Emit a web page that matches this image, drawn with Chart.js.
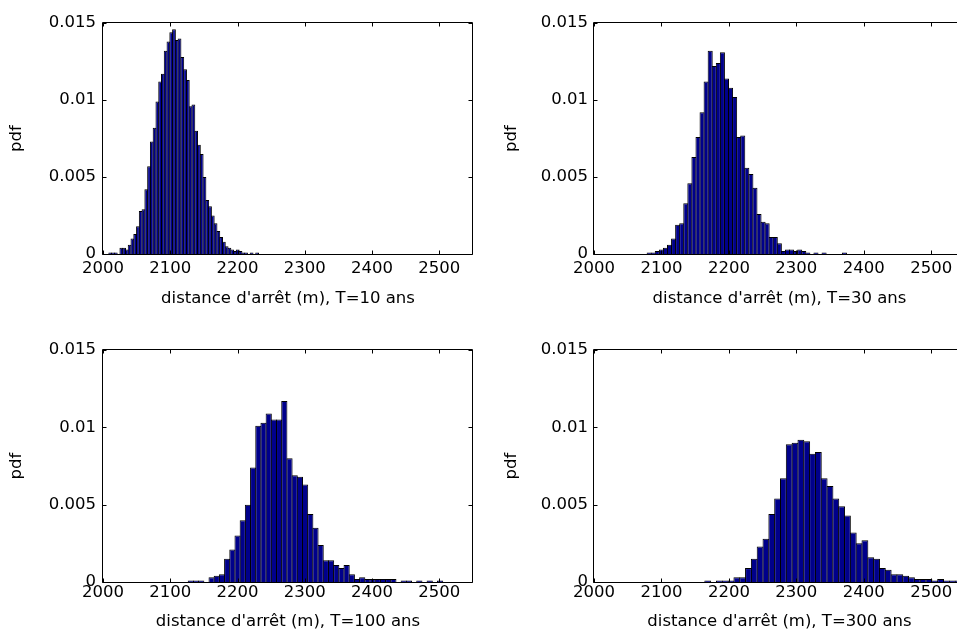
<!DOCTYPE html>
<html lang="fr">
<head>
<meta charset="UTF-8">
<title>Distance d'arrêt - histogrammes</title>
<script src="https://cdn.jsdelivr.net/npm/chart.js"></script>
<style>
  html, body { margin: 0; padding: 0; background: #fff; }
  body { position: relative; width: 957px; height: 637px; overflow: hidden; }
  canvas { position: absolute; }
</style>
</head>
<body>
<canvas id="hT10"  width="490" height="309" style="left:0;top:0;width:490px;height:309px"></canvas>
<canvas id="hT30"  width="480" height="309" style="left:495px;top:0;width:480px;height:309px"></canvas>
<canvas id="hT100" width="490" height="305" style="left:0;top:327px;width:490px;height:305px"></canvas>
<canvas id="hT300" width="480" height="305" style="left:495px;top:327px;width:480px;height:305px"></canvas>
<script>
  // histogram values (pdf), one value per bin
  var pdfT10 = [0.0001, 0.0001, 0.0001, 0, 0.0004, 0.0004, 0.0003, 0.0006, 0.0010, 0.0013,
    0.0018, 0.0028, 0.0029, 0.0042, 0.0057, 0.0073, 0.0082, 0.0099, 0.0112, 0.0117,
    0.0132, 0.0138, 0.0144, 0.0146, 0.0139, 0.0140, 0.0128, 0.0120, 0.0113, 0.0096,
    0.0097, 0.0080, 0.0071, 0.0065, 0.0050, 0.0035, 0.0031, 0.0025, 0.0020, 0.0015,
    0.0011, 0.0008, 0.0005, 0.0004, 0.0003, 0.0002, 0.0003, 0.0002, 0.0001, 0.0001,
    0, 0.0001, 0, 0.0001];
  var pdfT30 = [0.0001, 0.0001, 0.0002, 0.0003, 0.0004, 0.0006, 0.0010, 0.0019, 0.0020, 0.0033,
    0.0046, 0.0063, 0.0076, 0.0092, 0.0112, 0.0132, 0.0122, 0.0124, 0.0131, 0.0114,
    0.0108, 0.0102, 0.0076, 0.0077, 0.0056, 0.0052, 0.0043, 0.0026, 0.0021, 0.0020,
    0.0011, 0.0011, 0.0007, 0.0002, 0.0003, 0.0003, 0.0002, 0.0003, 0.0002, 0.0001,
    0, 0.0001, 0, 0.0001, 0, 0, 0, 0, 0.0001, 0];
  var pdfT100 = [0.0001, 0.0001, 0.0001, 0, 0.0003, 0.0004, 0.0005, 0.0015, 0.0021, 0.0030,
    0.0040, 0.0050, 0.0074, 0.0101, 0.0103, 0.0109, 0.0105, 0.0105, 0.0117, 0.0080,
    0.0069, 0.0068, 0.0063, 0.0044, 0.0035, 0.0024, 0.0014, 0.0014, 0.0011, 0.0009,
    0.0011, 0.0005, 0.0002, 0.0003, 0.0002, 0.0002, 0.0002, 0.0002, 0.0002, 0.0002,
    0, 0.0001, 0.0001, 0, 0.0001, 0, 0.0001, 0, 0.0001, 0];
  var pdfT300 = [0.0001, 0, 0.0001, 0.0001, 0.0001, 0.0003, 0.0003, 0.0009, 0.0015, 0.0023,
    0.0028, 0.0044, 0.0054, 0.0067, 0.0089, 0.0090, 0.0092, 0.0091, 0.0083, 0.0084,
    0.0067, 0.0062, 0.0054, 0.0049, 0.0043, 0.0032, 0.0025, 0.0027, 0.0016, 0.0015,
    0.0009, 0.0008, 0.0005, 0.0005, 0.0004, 0.0003, 0.0002, 0.0002, 0.0002, 0.0001,
    0.0002, 0.0001, 0.0001, 0.0001, 0.0001];

  // left edge of the first bin and bin width (m)
  var binStart = [2008.7, 2078.8, 2126.7, 2164.3];
  var binWidth = [4.12, 6.03, 7.72, 8.63];

  var xTicks = [2000, 2100, 2200, 2300, 2400, 2500];
  var yTicks = [0, 0.005, 0.01, 0.015];
  var xTitles = ["distance d'arrêt (m), T=10 ans", "distance d'arrêt (m), T=30 ans",
    "distance d'arrêt (m), T=100 ans", "distance d'arrêt (m), T=300 ans"];
  var yTitle = 'pdf';

  var font = { family: "'DejaVu Sans', sans-serif", size: 16.5 };

  // matlab style box with inward ticks on all four sides
  var boxTicks = {
    id: 'boxTicks',
    afterDraw: function (chart) {
      var a = chart.chartArea, ctx = chart.ctx;
      var xs = chart.scales.x, ys = chart.scales.y;
      var l = Math.round(a.left) - 0.5, r = Math.round(a.right) - 0.5;
      var t = Math.round(a.top) - 0.5, b = Math.round(a.bottom) + 0.5;
      ctx.save();
      ctx.strokeStyle = '#000';
      ctx.lineWidth = 1;
      ctx.beginPath();
      xTicks.forEach(function (v) {
        var px = Math.round(xs.getPixelForValue(v)) + 0.5;
        ctx.moveTo(px, b); ctx.lineTo(px, b - 4);
        ctx.moveTo(px, t); ctx.lineTo(px, t + 4);
      });
      yTicks.forEach(function (v) {
        var py = Math.round(ys.getPixelForValue(v)) + 0.5;
        ctx.moveTo(l, py); ctx.lineTo(l + 4, py);
        ctx.moveTo(r, py); ctx.lineTo(r - 4, py);
      });
      ctx.rect(l, t, r - l, b - t);
      ctx.stroke();
      ctx.restore();
    }
  };

  function drawHist(id, values, k, geo) {
    var pts = values.map(function (v, i) {
      return { x: binStart[k] + binWidth[k] * (i + 0.5), y: v };
    });
    var pxPerUnit = geo.plotW / 550;
    return new Chart(document.getElementById(id), {
      type: 'bar',
      data: {
        datasets: [{
          data: pts,
          backgroundColor: '#00008b',
          borderColor: '#000',
          borderWidth: 1,
          inflateAmount: 0,
          clip: 0,
          barPercentage: 1 + 1 / (binWidth[k] * pxPerUnit),
          categoryPercentage: 1
        }]
      },
      options: {
        responsive: false,
        animation: false,
        events: [],
        layout: { padding: { left: 0, top: geo.padTop, right: geo.padRight, bottom: 0 } },
        plugins: { legend: { display: false }, tooltip: { enabled: false } },
        scales: {
          x: {
            type: 'linear', min: 2000, max: 2550, offset: false,
            grid: { display: false, drawTicks: false },
            border: { display: false },
            ticks: {
              color: '#000', font: font, padding: geo.xPad, maxRotation: 0, autoSkip: false,
              callback: function (v) { return String(v); }
            },
            title: { display: true, text: xTitles[k], color: '#000', font: font, padding: 0 },
            afterBuildTicks: function (s) { s.ticks = xTicks.map(function (v) { return { value: v }; }); },
            afterFit: function (s) { s.height = geo.xAxisH; }
          },
          y: {
            type: 'linear', min: 0, max: 0.015,
            grid: { display: false, drawTicks: false },
            border: { display: false },
            ticks: {
              color: '#000', font: font, padding: geo.yPad,
              callback: function (v) { return String(v); }
            },
            title: { display: true, text: yTitle, color: '#000', font: font, padding: { top: 7, bottom: 0 } },
            afterBuildTicks: function (s) { s.ticks = yTicks.map(function (v) { return { value: v }; }); },
            afterFit: function (s) { s.width = geo.yAxisW; }
          }
        }
      },
      plugins: [boxTicks]
    });
  }

  drawHist('hT10', pdfT10, 0, { padTop: 23, padRight: 17, yAxisW: 103, xAxisH: 55, plotW: 370, xPad: 5, yPad: 7 });
  drawHist('hT30', pdfT30, 1, { padTop: 23, padRight: 10, yAxisW: 99, xAxisH: 55, plotW: 371, xPad: 5, yPad: 6 });
  drawHist('hT100', pdfT100, 2, { padTop: 23, padRight: 17, yAxisW: 103, xAxisH: 50, plotW: 370, xPad: 1, yPad: 7 });
  drawHist('hT300', pdfT300, 3, { padTop: 23, padRight: 10, yAxisW: 99, xAxisH: 50, plotW: 371, xPad: 1, yPad: 6 });
</script>
</body>
</html>
